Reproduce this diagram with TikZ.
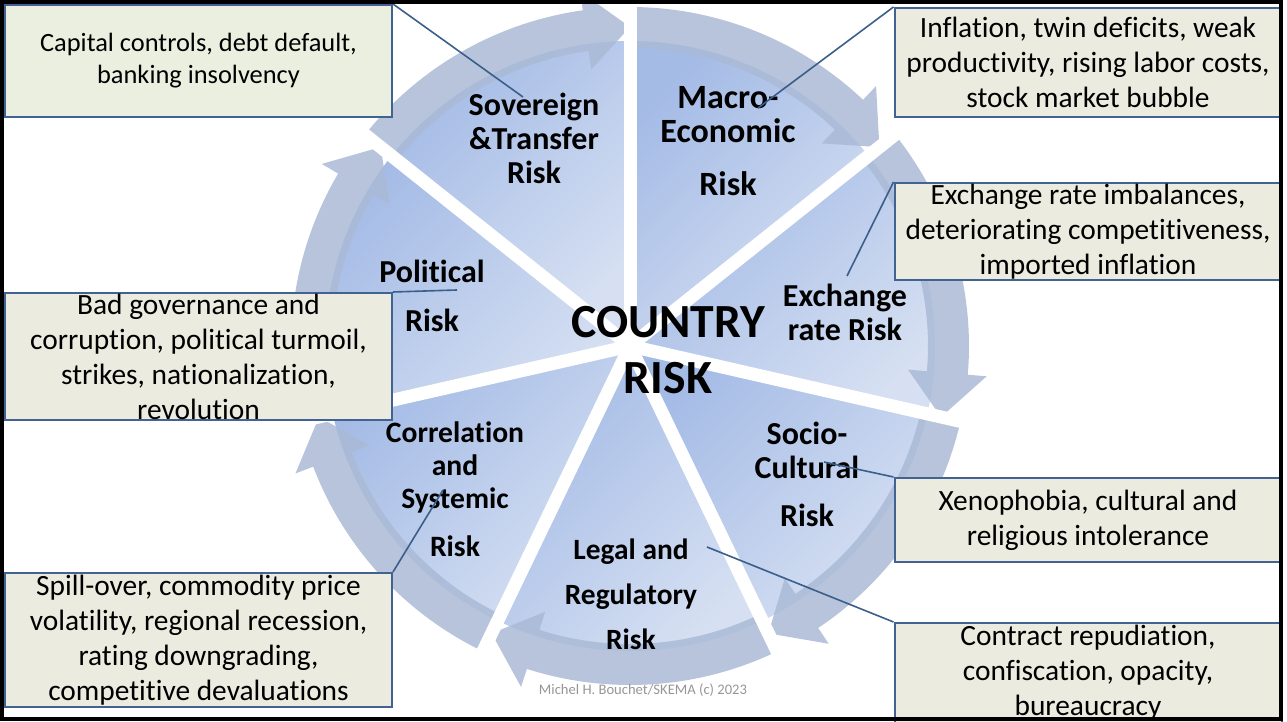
\documentclass[tikz,border=0pt]{standalone}
\usepackage{fontspec}
\setmainfont{Carlito}[Ligatures=NoCommon]

\definecolor{pieDark}{RGB}{164,187,230}
\definecolor{pieLight}{RGB}{214,224,242}
\definecolor{ringCol}{RGB}{170,186,214}
\definecolor{boxFill}{RGB}{236,235,224}
\definecolor{capFill}{RGB}{235,239,224}
\definecolor{boxLine}{RGB}{65,99,145}
\definecolor{linkCol}{RGB}{58,95,138}
\definecolor{markGrey}{RGB}{150,150,150}

\tikzset{
  descbox/.style={draw=boxLine, fill=boxFill, line width=1pt, minimum width=193.5pt, inner sep=0pt},
  desctext/.style={align=center, inner sep=0pt, font=\fontsize{14.7}{17.5}\selectfont},
  risklbl/.style={align=center, inner sep=0pt, font=\fontsize{16}{17}\selectfont\bfseries},
  link/.style={draw=linkCol, line width=0.8pt},
  wedge/.style={top color=pieDark, bottom color=pieLight, shading angle=45},
  ringarrow/.style={fill=ringCol, fill opacity=0.85},
  gapline/.style={white, line width=6.5pt},
}

\begin{document}
\begin{tikzpicture}[x=0.5pt,y=0.5pt]
\useasboundingbox (0,0) rectangle (1287,722);

% pie, ring of arrows and gaps
\begin{scope}[shift={(630,376)}]
\foreach \k in {0,...,6}{
  \pgfmathsetmacro\ga{90+\k*360/7}
  \pgfmathsetmacro\gb{\ga+360/7}
  \shade[wedge] (0,0) -- (\ga:305) arc[start angle=\ga, end angle=\gb, radius=305] -- cycle;
}
\foreach \k in {0,...,6}{
  \pgfmathsetmacro\ga{90+\k*360/7}
  \pgfmathsetmacro\gb{\ga+360/7}
  \pgfmathsetmacro\gh{\ga+8}
  \fill[ringarrow] (\gb:298) -- (\gb:339) arc[start angle=\gb, end angle=\gh, radius=339]
    -- (\gh:358) -- (\ga:319) -- (\gh:279) -- (\gh:298)
    arc[start angle=\gh, end angle=\gb, radius=298] -- cycle;
}
\foreach \k in {0,...,6}{
  \pgfmathsetmacro\ga{90+\k*360/7}
  \draw[gapline] (0,0) -- (\ga:350);
}
\end{scope}

% wedge labels
\node[risklbl] (sovLbl) at (534,584) {Sovereign\\\&Transfer\\Risk};
\node[risklbl, font=\fontsize{17}{17}\selectfont\bfseries] (macLbl) at (728,581) {Macro-\\Economic\\[9.5pt]Risk};
\node[risklbl] (excLbl) at (845,410) {Exchange\\rate Risk};
\node[risklbl] (polLbl) at (432,426) {Political\\[7.5pt]Risk};
\node[risklbl, font=\fontsize{14.8}{16.5}\selectfont\bfseries] (corLbl) at (455,233) {Correlation\\and\\Systemic\\[7.5pt]Risk};
\node[risklbl, font=\fontsize{14.7}{17}\selectfont\bfseries] (legLbl) at (631,128) {Legal and\\[5.5pt]Regulatory\\[5.5pt]Risk};
\node[risklbl] (socLbl) at (807,248) {Socio-\\Cultural\\[7pt]Risk};
\node[align=center, inner sep=0pt, font=\fontsize{23.8}{28}\selectfont\bfseries] (ctrLbl) at (668,372) {COUNTRY\\RISK};
\node[font=\fontsize{7.3}{9}\selectfont, text=markGrey] (mark) at (643,32) {Michel H. Bouchet/SKEMA (c) 2023};

% description boxes
\node[descbox, fill=capFill, minimum height=56pt] (capBox) at (198.5,661) {};
\node[desctext, font=\fontsize{13.2}{16}\selectfont] (capText) at (capBox) {Capital controls, debt default,\\banking insolvency};
\node[descbox, minimum height=54.5pt] (infBox) at (1088,659.5) {};
\node[desctext] (infText) at (infBox) {Inflation, twin deficits, weak\\productivity, rising labor costs,\\stock market bubble};
\node[descbox, minimum height=48.5pt] (excBox) at (1088,490.5) {};
\node[desctext] (excText) at (excBox) {Exchange rate imbalances,\\deteriorating competitiveness,\\imported inflation};
\node[descbox, minimum height=63.5pt] (polBox) at (198.5,365.5) {};
\node[desctext] (polText) at (polBox) {Bad governance and\\corruption, political turmoil,\\strikes, nationalization,\\revolution};
\node[descbox, minimum height=67pt] (spillBox) at (198.5,82) {};
\node[desctext] (spillText) at (spillBox) {Spill-over, commodity price\\volatility, regional recession,\\rating downgrading,\\competitive devaluations};
\node[descbox, minimum height=42pt] (xenoBox) at (1088,202) {};
\node[desctext] (xenoText) at (xenoBox) {Xenophobia, cultural and\\religious intolerance};
\node[descbox, minimum height=50pt] (contBox) at (1088,49) {};
\node[desctext] (contText) at (contBox) {Contract repudiation,\\confiscation, opacity,\\bureaucracy};

% connectors
\coordinate (sovPt) at (523,625);
\coordinate (macPt) at (758,614);
\coordinate (excPt) at (847,446);
\coordinate (polPt) at (457,432);
\coordinate (corPt) at (443,232);
\coordinate (socPt) at (824,260);
\coordinate (legPt) at (707,175);
\draw[link] (capBox.north east) -- (sovPt);
\draw[link] (infBox.north west) -- (macPt);
\draw[link] (excBox.north west) -- (excPt);
\draw[link] (polBox.north east) -- (polPt);
\draw[link] (spillBox.north east) -- (corPt);
\draw[link] (xenoBox.north west) -- (socPt);
\draw[link] (contBox.north west) -- (legPt);

% slide frame
\draw[line width=2pt] (2,3) rectangle (1281,720);
\end{tikzpicture}
\end{document}
